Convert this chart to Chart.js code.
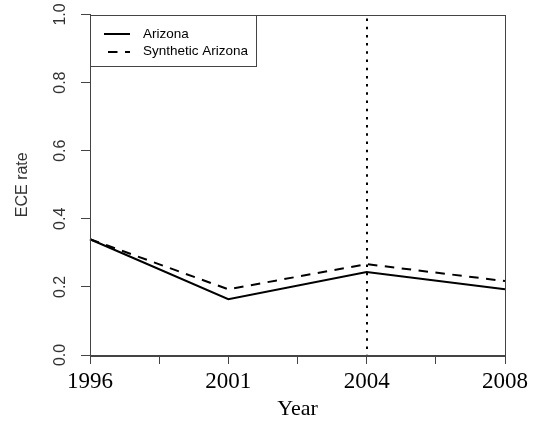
<!DOCTYPE html>
<html>
<head>
<meta charset="utf-8">
<script src="https://cdn.jsdelivr.net/npm/chart.js@4/dist/chart.umd.min.js"></script>
<style>
  html, body { margin: 0; padding: 0; background: #fff; }
  canvas { display: block; }
</style>
</head>
<body>
<canvas id="chart" width="536" height="428"></canvas>
<script>
// Evenly spaced survey waves; unlabeled slots carry minor ticks only
const categories = ['1996', '', '2001', '', '2004', '', '2008'];
const arizona   = [0.340, null, 0.164, null, 0.244, null, 0.193];
const synthetic = [0.340, null, 0.193, null, 0.267, null, 0.217];
const yTicks = [0.0, 0.2, 0.4, 0.6, 0.8, 1.0];
const treatmentYear = '2004';

const axisColor = '#444';
const sans = '"Liberation Sans", Arial, sans-serif';
const serif = '"Liberation Serif", "Times New Roman", serif';

// Frame, vertical marker at the treatment year, and boxed legend
const decorations = {
  id: 'decorations',
  afterDatasetsDraw(chart) {
    const { ctx, chartArea: a, scales: { x } } = chart;
    ctx.save();
    // plot frame
    ctx.strokeStyle = axisColor;
    ctx.lineWidth = 1;
    ctx.strokeRect(Math.round(a.left) + 0.5, Math.round(a.top) + 0.5,
                   Math.round(a.right - a.left), Math.round(a.bottom - a.top));
    // dotted marker
    const mx = Math.round(x.getPixelForValue(categories.indexOf(treatmentYear)));
    ctx.strokeStyle = '#000';
    ctx.lineWidth = 2;
    ctx.setLineDash([2.5, 5.7]);
    ctx.lineDashOffset = -4;
    ctx.beginPath();
    ctx.moveTo(mx, a.top);
    ctx.lineTo(mx, a.bottom);
    ctx.stroke();
    ctx.setLineDash([]);

    // legend
    ctx.font = '13.5px ' + sans;
    ctx.textBaseline = 'middle';
    ctx.textAlign = 'left';
    const sets = chart.data.datasets;
    const left = Math.round(a.left) + 0.5, top = Math.round(a.top) + 0.5;
    const lineX0 = left + 13.5, lineX1 = left + 39.5, textX = left + 52.5;
    const rowY = [top + 18.3, top + 36];
    let maxW = 0;
    sets.forEach(d => { maxW = Math.max(maxW, ctx.measureText(d.label).width); });
    const boxW = Math.round(textX - left + maxW + 8);
    ctx.fillStyle = '#fff';
    ctx.fillRect(left, top, boxW, 51);
    ctx.strokeStyle = axisColor;
    ctx.lineWidth = 1;
    ctx.strokeRect(left, top, boxW, 51);
    sets.forEach((d, i) => {
      ctx.strokeStyle = d.borderColor;
      ctx.lineWidth = d.borderWidth;
      ctx.setLineDash(d.borderDash || []);
      ctx.beginPath();
      ctx.moveTo(lineX0, Math.round(rowY[i]));
      ctx.lineTo(lineX1, Math.round(rowY[i]));
      ctx.stroke();
      ctx.setLineDash([]);
      ctx.fillStyle = '#000';
      ctx.fillText(d.label, textX, rowY[i]);
    });
    ctx.restore();
  }
};

new Chart(document.getElementById('chart'), {
  type: 'line',
  data: {
    labels: categories,
    datasets: [
      {
        label: 'Arizona',
        data: arizona,
        borderColor: '#000',
        borderWidth: 2,
        borderDash: [],
        pointRadius: 0,
        spanGaps: true,
        tension: 0,
        fill: false
      },
      {
        label: 'Synthetic Arizona',
        data: synthetic,
        borderColor: '#000',
        borderWidth: 2,
        borderDash: [9.5, 7.5],
        pointRadius: 0,
        spanGaps: true,
        tension: 0,
        fill: false
      }
    ]
  },
  options: {
    responsive: false,
    devicePixelRatio: 1,
    animation: false,
    layout: { padding: { left: 0, right: 31, top: 14.5, bottom: 0 } },
    plugins: {
      legend: { display: false },
      tooltip: { enabled: false }
    },
    scales: {
      x: {
        type: 'category',
        offset: false,
        afterFit(scale) {
          scale.height = 73;
          scale.paddingLeft = 0;
          scale.paddingRight = 0;
        },
        grid: {
          display: true,
          drawOnChartArea: false,
          drawTicks: true,
          tickLength: 9,
          color: axisColor
        },
        border: { display: true, color: axisColor, width: 1 },
        ticks: {
          autoSkip: false,
          maxRotation: 0,
          minRotation: 0,
          padding: 4.4,
          color: '#000',
          font: { family: serif, size: 23 }
        },
        title: {
          display: true,
          text: 'Year',
          color: '#000',
          font: { family: serif, size: 22 },
          padding: { top: 0, bottom: 5.5 }
        }
      },
      y: {
        min: 0,
        max: 1,
        afterFit(scale) {
          scale.width = 90;
          scale.paddingTop = 0;
          scale.paddingBottom = 0;
        },
        afterBuildTicks(scale) { scale.ticks = yTicks.map(v => ({ value: v })); },
        grid: {
          display: true,
          drawOnChartArea: false,
          drawTicks: true,
          tickLength: 9,
          color: axisColor
        },
        border: { display: true, color: axisColor, width: 1 },
        ticks: {
          minRotation: 90,
          maxRotation: 90,
          crossAlign: 'center',
          padding: 9.2,
          color: '#333',
          font: { family: sans, size: 16 },
          callback: v => Number(v).toFixed(1)
        },
        title: {
          display: true,
          text: 'ECE rate',
          color: '#333',
          font: { family: sans, size: 16 },
          padding: { top: 12.5, bottom: 0 }
        }
      }
    }
  },
  plugins: [decorations]
});
</script>
</body>
</html>
